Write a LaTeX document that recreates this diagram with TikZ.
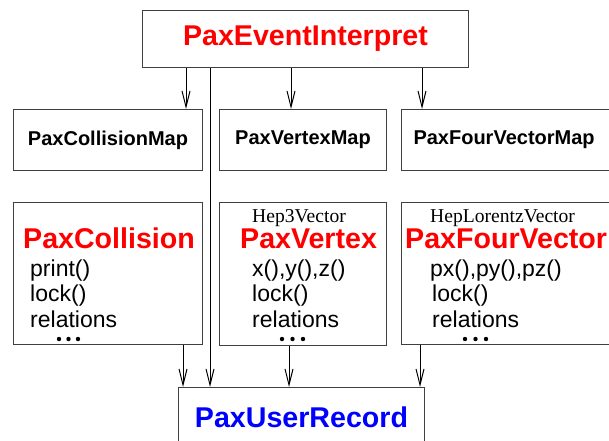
\documentclass[tikz,border=0pt]{standalone}
\usepackage{fontspec}
\setmainfont{Liberation Sans}
\newfontfamily\timesfont{Liberation Serif}
\usetikzlibrary{arrows.meta, positioning}

\tikzset{
	box/.style={draw=black!75, line width=1pt, inner sep=0pt, anchor=north west},
	arr/.style={-{Straight Barb[length=16pt,width=8pt]}, line width=1pt},
	bigname/.style={font=\fontsize{28.6}{30}\selectfont\bfseries},
	mapname/.style={font=\fontsize{20}{22}\selectfont\bfseries},
	member/.style={font=\fontsize{23}{25}\selectfont, inner sep=0pt, anchor=base west},
	parentcls/.style={font=\timesfont\fontsize{19.6}{21}\selectfont, inner sep=0pt, anchor=base west},
}

\begin{document}
\begin{tikzpicture}[x=1pt,y=-1pt]
	\useasboundingbox (0,0) rectangle (609,440);
	\fill[white] (0,0) rectangle (609,440);
	\clip (0,0) rectangle (609,440);
	
	% boxes
	\node(interp) [box, bigname, text=red, minimum width=326, minimum height=57] at (142,10) {PaxEventInterpret};
	\node(map1) [box, mapname, minimum width=189, minimum height=61] at (13,109) {PaxCollisionMap};
	\node(map2) [box, mapname, minimum width=167, minimum height=61] at (219,109) {PaxVertexMap};
	\node(map3) [box, mapname, minimum height=61, text width=215, inner xsep=12, align=left] at (401,109) {PaxFourVectorMap};
	\node(obj1) [box, minimum width=189, minimum height=142] at (13,202) {};
	\node(obj2) [box, minimum width=167, minimum height=143] at (219,202) {};
	\node(obj3) [box, minimum width=230, minimum height=142] at (401,202) {};
	\node(record) [box, bigname, text=blue, minimum width=246, minimum height=60] at (178,387) {PaxUserRecord};
	
	% PaxCollision
	\node(coll) [member, bigname, text=red] at (23,248) {PaxCollision};
	\node(coll1) [member] at (30,276) {print()};
	\node(coll2) [member] at (30,301) {lock()};
	\node(coll3) [member] at (30,327) {relations};
	
	% PaxVertex
	\node(vtxbase) [parentcls] at (252,222) {Hep3Vector};
	\node(vtx) [member, bigname, text=red] at (240,248) {PaxVertex};
	\node(vtx1) [member] at (252,276) {x(),y(),z()};
	\node(vtx2) [member] at (252,301) {lock()};
	\node(vtx3) [member] at (252,327) {relations};
	
	% PaxFourVector
	\node(fvbase) [parentcls] at (430,222) {HepLorentzVector};
	\node(fv) [member, bigname, text=red] at (405,248) {PaxFourVector};
	\node(fv1) [member] at (430,276) {px(),py(),pz()};
	\node(fv2) [member] at (432,301) {lock()};
	\node(fv3) [member] at (432,327) {relations};
	
	\foreach \x in {59,68.5,78,282,292.5,303,465,475.5,486}
		\fill (\x,339) circle (2.2pt);
	
	% arrow positions
	\coordinate(c1) at (186,0);
	\coordinate(c2) at (291,0);
	\coordinate(c3) at (422,0);
	\coordinate(c4) at (210,0);
	\coordinate(c5) at (183,0);
	\coordinate(c6) at (289,0);
	\coordinate(c7) at (420,0);
	
	\draw[arr] (interp.south -| c1) -- (map1.north -| c1);
	\draw[arr] (interp.south -| c2) -- (map2.north -| c2);
	\draw[arr] (interp.south -| c3) -- (map3.north -| c3);
	\draw[arr] (interp.south -| c4) -- (record.north -| c4);
	\draw[arr] (obj1.south -| c5) -- (record.north -| c5);
	\draw[arr] (obj2.south -| c6) -- (record.north -| c6);
	\draw[arr] (obj3.south -| c7) -- (record.north -| c7);
\end{tikzpicture}
\end{document}
